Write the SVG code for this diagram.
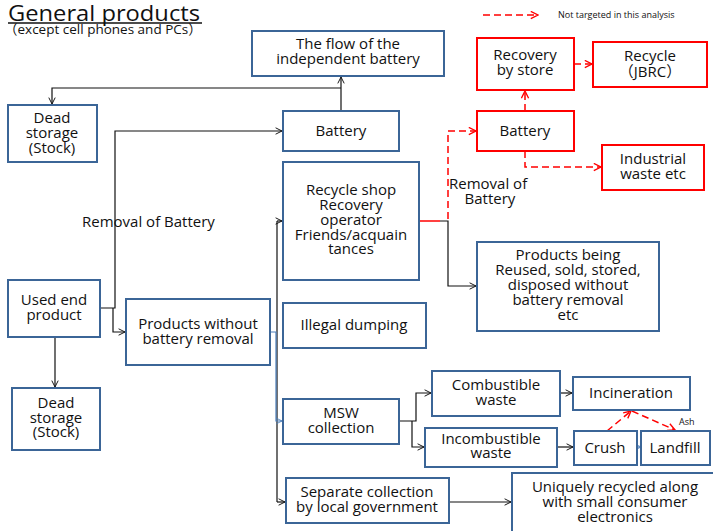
<svg xmlns="http://www.w3.org/2000/svg" width="713" height="531" viewBox="0 0 713 531">
<style>
.b{fill:#fff;stroke:#3B6597;stroke-width:2}
.r{fill:#fff;stroke:#FF0000;stroke-width:2}
text{font-family:"Open Sans","Noto Sans","Noto Sans CJK JP",sans-serif;font-size:15px;fill:#111}
.c{text-anchor:middle}
.k{fill:none;stroke:#111;stroke-width:1.2}
.bl{fill:none;stroke:#4A7EBB;stroke-width:1.2}
.rd{fill:none;stroke:#FF0000;stroke-width:1.5;stroke-dasharray:7 4}
.rs{fill:none;stroke:#FF0000;stroke-width:1.5}
</style>
<defs>
<marker id="ak" viewBox="0 0 10 10" refX="9" refY="5" markerWidth="8" markerHeight="8" orient="auto" markerUnits="userSpaceOnUse"><path d="M1,1 L9,5 L1,9" fill="none" stroke="#111" stroke-width="1.2"/></marker>
<marker id="ar" viewBox="0 0 10 10" refX="9" refY="5" markerWidth="9" markerHeight="9" orient="auto" markerUnits="userSpaceOnUse"><path d="M1,1 L9,5 L1,9" fill="none" stroke="#FF0000" stroke-width="1.5"/></marker>
<marker id="ab" viewBox="0 0 10 10" refX="9" refY="5" markerWidth="7" markerHeight="7" orient="auto" markerUnits="userSpaceOnUse"><path d="M1,1 L9,5 L1,9" fill="none" stroke="#4A7EBB" stroke-width="1.2"/></marker>
</defs>
<g id="title">
<text x="8" y="21" style="font-size:22.5px" textLength="192" lengthAdjust="spacingAndGlyphs">General products</text>
<line x1="8" y1="23" x2="202" y2="23" stroke="#111" stroke-width="1.5"/>
<text x="4" y="34" style="font-size:13.5px">（except cell phones and PCs）</text>
</g>
<g id="legend">
<line class="rd" x1="483" y1="15" x2="538" y2="15" marker-end="url(#ar)"/>
<text x="558" y="18" style="font-size:9px">Not targeted in this analysis</text>
</g>
<g id="connectors">
<polyline class="k" points="100,308 115,308 115,131 282,131" marker-end="url(#ak)"/>
<polyline class="k" points="341,111 341,77" marker-end="url(#ak)"/>
<polyline class="k" points="341,88 52,88 52,104" marker-end="url(#ak)"/>
<polyline class="k" points="113,308 113,332 125,332" marker-end="url(#ak)"/>
<polyline class="k" points="55,337 55,387" marker-end="url(#ak)"/>
<line class="k" x1="277" y1="221" x2="277" y2="502"/>
<polyline class="k" points="277,221 282,221" marker-end="url(#ak)"/>
<polyline class="k" points="277,502 285,502" marker-end="url(#ak)"/>
<polyline class="bl" points="270,332 276,332 276,421 282,421" marker-end="url(#ab)"/>
<polyline class="rs" points="419,221 440,221"/>
<polyline class="k" points="440,221 448,221 448,286 476,286" marker-end="url(#ak)"/>
<polyline class="rd" points="448,219 448,131 476,131" marker-end="url(#ar)"/>
<polyline class="rd" points="525,111 525,91" marker-end="url(#ar)"/>
<polyline class="rd" points="574,64 592,64" marker-end="url(#ar)"/>
<polyline class="rd" points="525,151 525,167 601,167" marker-end="url(#ar)"/>
<polyline class="k" points="399,421 416,421 416,393 431,393" marker-end="url(#ak)"/>
<polyline class="k" points="412,421 412,447 424,447" marker-end="url(#ak)"/>
<polyline class="k" points="560,393 572,393" marker-end="url(#ak)"/>
<polyline class="k" points="557,447 573,447" marker-end="url(#ak)"/>
<polyline class="bl" points="637,447 641,447" marker-end="url(#ab)"/>
<polyline class="rd" points="607,431 631,411" marker-end="url(#ar)"/>
<polyline class="rd" points="632,411 675,430" marker-end="url(#ar)"/>
<polyline class="k" points="449,502 511,502" marker-end="url(#ak)"/>
</g>
<g id="labels">
<text x="82" y="227">Removal of Battery</text>
<text x="449" y="189">Removal of</text>
<text x="490" y="204" class="c">Battery</text>
<text x="679" y="425" style="font-size:9px">Ash</text>
</g>
<g id="flow"><rect class="b" x="252" y="31" width="192" height="45"/><text class="c" x="348" y="49">The flow of the</text><text class="c" x="348" y="64">independent battery</text></g>
<g id="battery"><rect class="b" x="283" y="111" width="116" height="40"/><text class="c" x="341" y="136">Battery</text></g>
<g id="dead1"><rect class="b" x="8" y="105" width="89" height="57"/><text class="c" x="52" y="123">Dead</text><text class="c" x="52" y="138">storage</text><text class="c" x="52" y="153">(Stock)</text></g>
<g id="recycleshop"><rect class="b" x="283" y="162" width="136" height="118"/><text class="c" x="351" y="195">Recycle shop</text><text class="c" x="351" y="210">Recovery</text><text class="c" x="351" y="225">operator</text><text class="c" x="351" y="240">Friends/acquain</text><text class="c" x="351" y="254">tances</text></g>
<g id="illegal"><rect class="b" x="283" y="303" width="143" height="45"/><text class="c" x="354" y="330">Illegal dumping</text></g>
<g id="used"><rect class="b" x="8" y="280" width="92" height="57"/><text class="c" x="54" y="305">Used end</text><text class="c" x="54" y="320">product</text></g>
<g id="without"><rect class="b" x="126" y="299" width="144" height="66"/><text class="c" x="198" y="329">Products without</text><text class="c" x="198" y="344">battery removal</text></g>
<g id="dead2"><rect class="b" x="12" y="388" width="88" height="62"/><text class="c" x="56" y="408">Dead</text><text class="c" x="56" y="423">storage</text><text class="c" x="56" y="437">(Stock)</text></g>
<g id="msw"><rect class="b" x="283" y="399" width="116" height="45"/><text class="c" x="341" y="418">MSW</text><text class="c" x="341" y="433">collection</text></g>
<g id="separate"><rect class="b" x="286" y="478" width="163" height="45"/><text class="c" x="367" y="497">Separate collection</text><text class="c" x="367" y="512">by local government</text></g>
<g id="combustible"><rect class="b" x="432" y="371" width="128" height="45"/><text class="c" x="496" y="390">Combustible</text><text class="c" x="496" y="405">waste</text></g>
<g id="incombustible"><rect class="b" x="425" y="428" width="132" height="39"/><text class="c" x="491" y="444">Incombustible</text><text class="c" x="491" y="458">waste</text></g>
<g id="incineration"><rect class="b" x="573" y="377" width="117" height="33"/><text class="c" x="631" y="398">Incineration</text></g>
<g id="crush"><rect class="b" x="574" y="431" width="63" height="34"/><text class="c" x="605" y="453">Crush</text></g>
<g id="landfill"><rect class="b" x="641" y="431" width="69" height="34"/><text class="c" x="675" y="453">Landfill</text></g>
<g id="uniquely"><rect class="b" x="512" y="473" width="210" height="70"/><text class="c" x="615" y="492">Uniquely recycled along</text><text class="c" x="615" y="507">with small consumer</text><text class="c" x="615" y="522">electronics</text></g>
<g id="reused"><rect class="b" x="477" y="242" width="182" height="89"/><text class="c" x="568" y="260">Products being</text><text class="c" x="568" y="275">Reused, sold, stored,</text><text class="c" x="568" y="290">disposed without</text><text class="c" x="568" y="305">battery removal</text><text class="c" x="568" y="320">etc</text></g>
<g id="recovery"><rect class="r" x="477" y="38" width="97" height="52"/><text class="c" x="525" y="60">Recovery</text><text class="c" x="525" y="75">by store</text></g>
<g id="jbrc"><rect class="r" x="593" y="42" width="114" height="45"/><text class="c" x="650" y="61">Recycle</text><text class="c" x="650" y="77">（JBRC）</text></g>
<g id="redbattery"><rect class="r" x="477" y="111" width="97" height="40"/><text class="c" x="525" y="136">Battery</text></g>
<g id="industrial"><rect class="r" x="602" y="145" width="102" height="45"/><text class="c" x="653" y="164">Industrial</text><text class="c" x="653" y="179">waste etc</text></g>
</svg>
